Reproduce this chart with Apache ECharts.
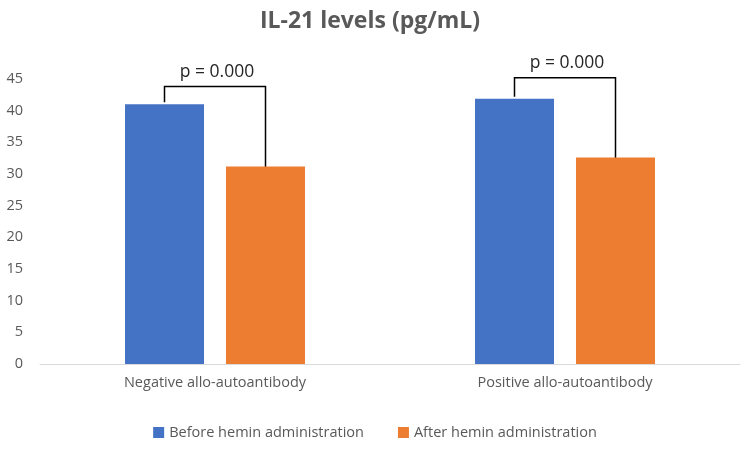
<!DOCTYPE html>
<html>
<head>
<meta charset="utf-8">
<script src="https://cdn.jsdelivr.net/npm/echarts@6/dist/echarts.min.js"></script>
<style>html,body{margin:0;padding:0;background:#fff}#c{width:750px;height:452px}</style>
</head>
<body>
<div id="c"></div>
<script>
var categories = ['Negative allo-autoantibody', 'Positive allo-autoantibody'];
var seriesNames = ['Before hemin administration', 'After hemin administration'];
var beforeValues = [41.0, 41.9];
var afterValues = [31.2, 32.6];
var pLabels = ['p = 0.000', 'p = 0.000'];
var bracketLevels = [43.8, 45.2];
var yTicks = [0, 5, 10, 15, 20, 25, 30, 35, 40, 45];

var BAR_W = 79, GAP = 22;
var chart = echarts.init(document.getElementById('c'), null, {renderer: 'canvas'});
var FONT = 'Open Sans';

chart.setOption({
  animation: false,
  title: {
    text: 'IL-21 levels (pg/mL)',
    left: 365, top: 5, textAlign: 'center',
    textStyle: {fontFamily: FONT, fontSize: 23, fontWeight: 'bold', color: '#595959'}
  },
  legend: {
    data: seriesNames,
    bottom: 7, left: 'center',
    itemWidth: 11, itemHeight: 11, itemGap: 34,
    icon: 'rect',
    textStyle: {fontFamily: FONT, fontSize: 14.5, color: '#595959'}
  },
  grid: {left: 40, right: 10, top: 79, bottom: 88, containLabel: false},
  xAxis: {
    type: 'category', data: categories,
    axisLine: {lineStyle: {color: '#d9d9d9', width: 1}},
    axisTick: {show: false},
    axisLabel: {fontFamily: FONT, fontSize: 14.5, color: '#595959', margin: 11}
  },
  yAxis: {
    type: 'value', min: yTicks[0], max: yTicks[yTicks.length - 1], interval: 5,
    axisLine: {show: false}, axisTick: {show: false},
    splitLine: {show: false},
    axisLabel: {fontFamily: FONT, fontSize: 14.5, color: '#595959', margin: 17, align: 'right'}
  },
  series: [
    {name: seriesNames[0], type: 'bar', data: beforeValues, barWidth: BAR_W, barGap: (GAP / BAR_W * 100).toFixed(1) + '%',
     itemStyle: {color: '#4472c4'}},
    {name: seriesNames[1], type: 'bar', data: afterValues, barWidth: BAR_W,
     itemStyle: {color: '#ed7d31'}},
    {
      type: 'custom', silent: true,
      data: categories.map(function (c, i) { return [i, bracketLevels[i], beforeValues[i], afterValues[i]]; }),
      encode: {x: 0, y: 1},
      renderItem: function (params, api) {
        var i = api.value(0);
        var top = api.coord([i, api.value(1)]);
        var b = api.coord([i, api.value(2)]);
        var a = api.coord([i, api.value(3)]);
        var off = (BAR_W + GAP) / 2;
        var xl = top[0] - off, xr = top[0] + off;
        return {
          type: 'group',
          children: [
            {type: 'polyline', shape: {points: [[xl, b[1] - 2], [xl, top[1]], [xr, top[1]], [xr, a[1] + 1]]},
             style: {stroke: '#000', lineWidth: 1.5, fill: null}},
            {type: 'text', x: top[0] + 2, y: top[1] - 6,
             style: {text: pLabels[params.dataIndex], fontFamily: FONT, fontSize: 17.5, fill: '#262626',
                     align: 'center', verticalAlign: 'bottom'}}
          ]
        };
      }
    }
  ]
});
</script>
</body>
</html>
